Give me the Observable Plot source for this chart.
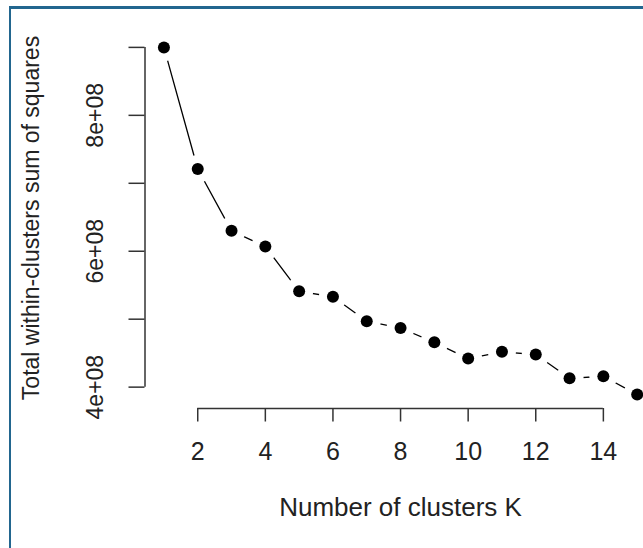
<!DOCTYPE html>
<html>
<head>
<meta charset="utf-8">
<script src="https://cdn.jsdelivr.net/npm/d3@7"></script>
<script src="https://cdn.jsdelivr.net/npm/@observablehq/plot@0.6"></script>
<style>
  html, body { margin: 0; padding: 0; background: #fff; }
  #wrap { position: relative; width: 643px; height: 548px; overflow: hidden; }
  #frame { position: absolute; left: 9px; top: 6px; width: 700px; height: 600px;
           border-left: 2px solid #22668f; border-top: 3px solid #22668f; pointer-events: none; }
</style>
</head>
<body>
<div id="wrap"><div id="frame"></div></div>
<script>
// Data (elbow plot)
const k = [1, 2, 3, 4, 5, 6, 7, 8, 9, 10, 11, 12, 13, 14, 15];
const wss = [9.00e8, 7.21e8, 6.30e8, 6.07e8, 5.41e8, 5.33e8, 4.97e8, 4.87e8, 4.66e8, 4.42e8, 4.52e8, 4.48e8, 4.13e8, 4.16e8, 3.89e8];
const xTicks = [2, 4, 6, 8, 10, 12, 14];
const yTicks = [4e8, 5e8, 6e8, 7e8, 8e8, 9e8];
const yLabelTicks = [4e8, 6e8, 8e8];
const xTitle = "Number of clusters K";
const yTitle = "Total within-clusters sum of squares";

const data = k.map((kk, i) => ({k: kk, wss: wss[i]}));

// R-style 4% domain extension
const ext = (lo, hi) => { const p = (hi - lo) * 0.04; return [lo - p, hi + p]; };
const xDomain = ext(d3.min(k), d3.max(k));
const yDomain = ext(d3.min(wss), d3.max(wss));
const fmtE = v => { const e = Math.floor(Math.log10(v)); const m = v / 10 ** e; return `${m}e+${String(e).padStart(2, "0")}`; };

const font = "'Liberation Sans', Arial, sans-serif";

const chart = Plot.plot({
  width: 643,
  height: 548,
  marginLeft: 144.5,
  marginRight: -12.6,
  marginTop: 33,
  marginBottom: 140,
  style: {fontFamily: font, color: "#222", background: "transparent"},
  x: {domain: xDomain},
  y: {domain: yDomain},
  marks: [
    Plot.line(data, {x: "k", y: "wss", stroke: "black", strokeWidth: 1.3}),
    Plot.dot(data, {x: "k", y: "wss", r: 14, fill: "white", stroke: null}),
    Plot.dot(data, {x: "k", y: "wss", r: 6, fill: "black", stroke: null}),
    // y axis
    Plot.ruleX([xDomain[0]], {y1: yTicks[0], y2: yTicks[yTicks.length - 1], stroke: "#333", strokeWidth: 1.5}),
    Plot.axisY({ticks: yTicks, tickSize: 16, tickFormat: () => "", label: null, stroke: "#333", strokeWidth: 1.5}),
    Plot.text(yLabelTicks, {x: () => xDomain[0], y: d => d, text: fmtE, rotate: -90, dx: -49, textAnchor: "middle", lineAnchor: "middle", fontSize: 23, fill: "#222"}),
    // x axis
    Plot.ruleY([yDomain[0]], {x1: xTicks[0], x2: xTicks[xTicks.length - 1], stroke: "#333", strokeWidth: 1.5}),
    Plot.axisX({ticks: xTicks, tickSize: 13.5, tickPadding: 20, fontSize: 25, label: null, stroke: "#333", strokeWidth: 1.5, fill: "#222"}),
    // titles
    Plot.text([xTitle], {frameAnchor: "bottom", text: d => d, dy: 99, textAnchor: "middle", lineAnchor: "middle", fontSize: 26, fill: "#222"}),
    Plot.text([yTitle], {frameAnchor: "left", text: d => d, rotate: -90, dx: -113, dy: -3, textAnchor: "middle", lineAnchor: "middle", fontSize: 23, fill: "#222"})
  ]
});
chart.style.position = "absolute";
chart.style.left = "0";
chart.style.top = "0";
document.getElementById("wrap").prepend(chart);
</script>
</body>
</html>
